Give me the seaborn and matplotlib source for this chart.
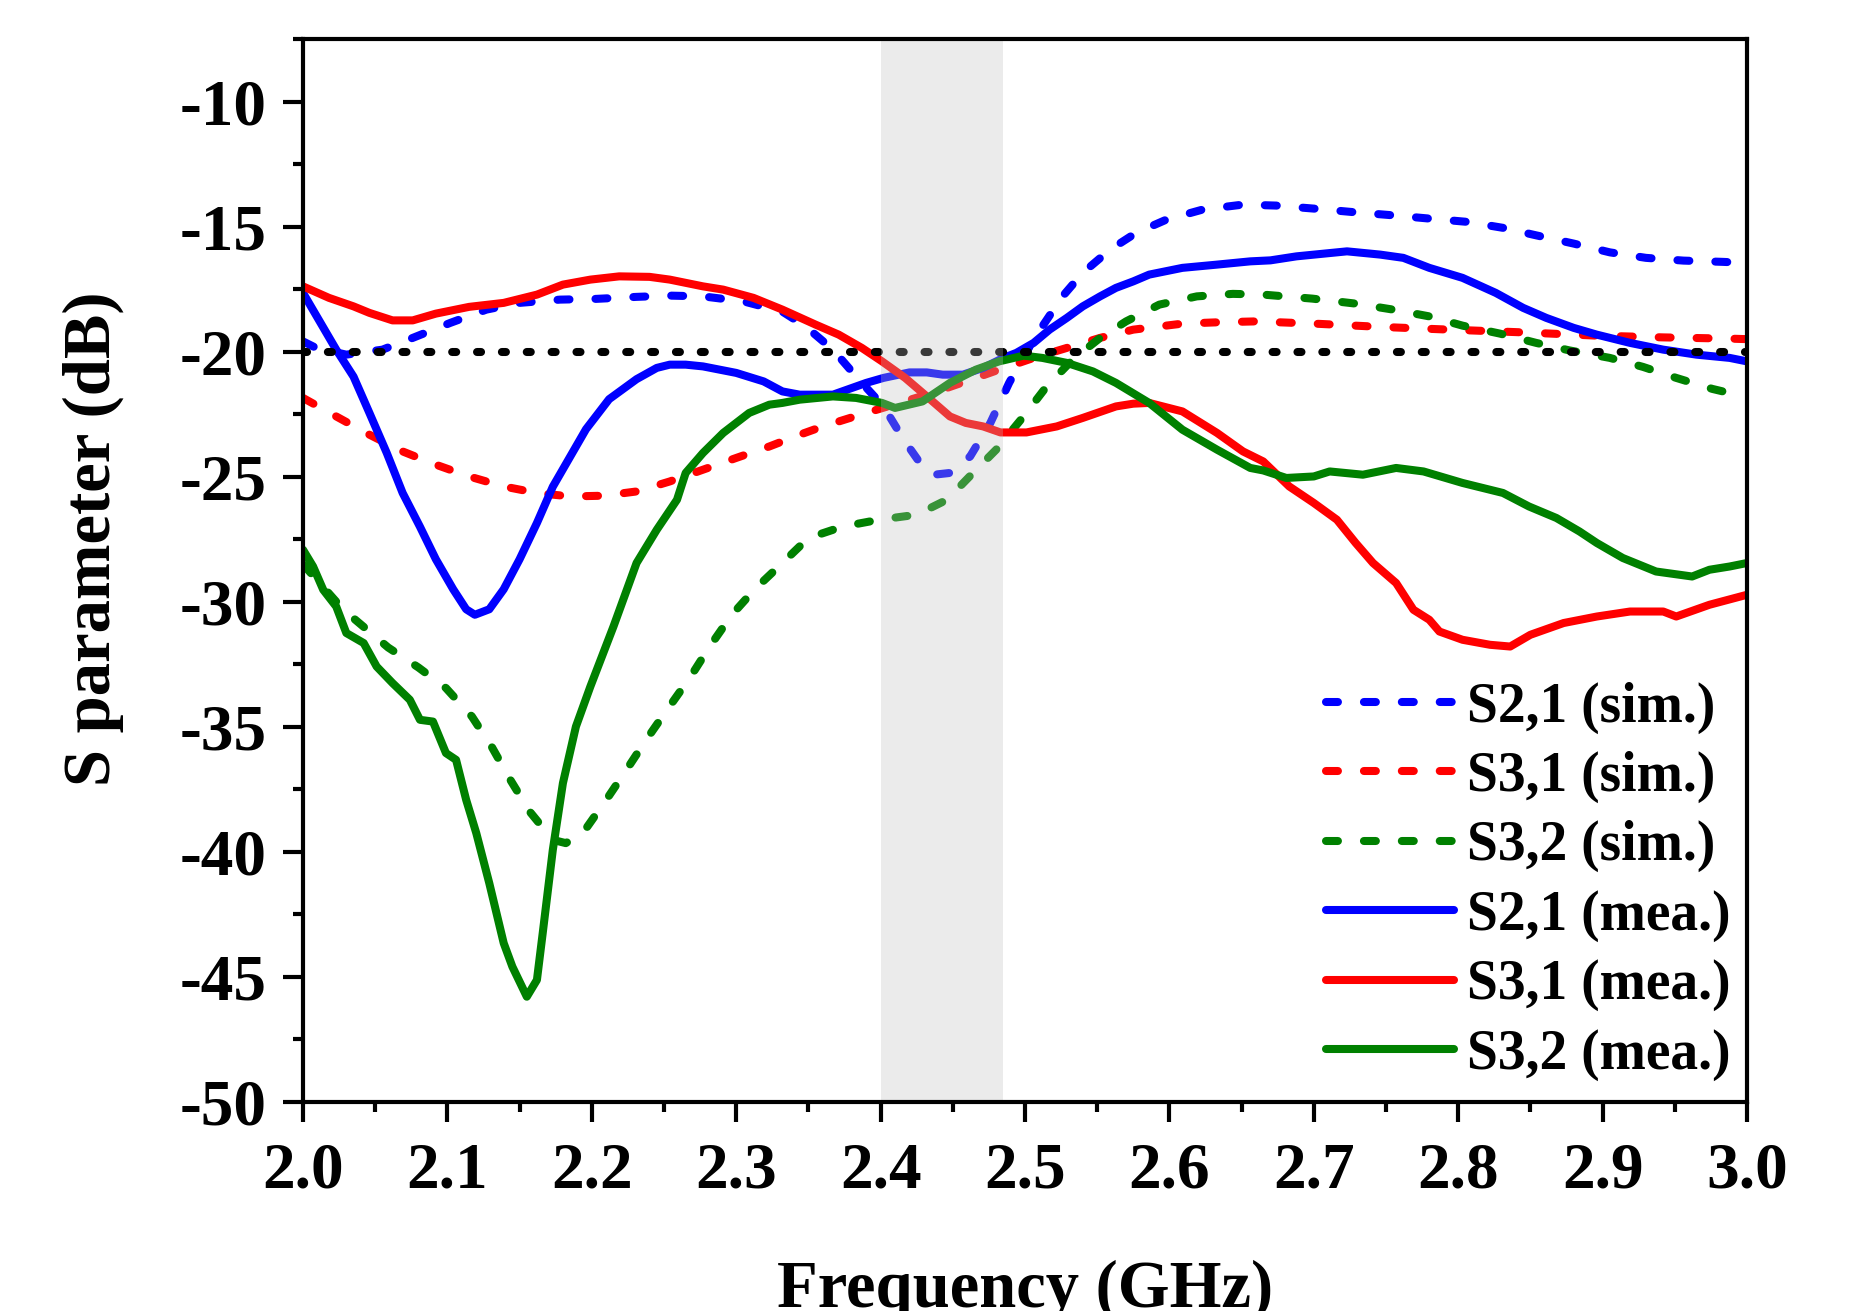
import numpy as np
import pandas as pd
import matplotlib
matplotlib.use("Agg")
import matplotlib.pyplot as plt
import seaborn as sns

# ---------------- data ----------------
s21_mea_f = [2.000, 2.023, 2.035, 2.046, 2.058, 2.069, 2.081, 2.092, 2.104, 2.113, 2.119, 2.129,
             2.139, 2.150, 2.162, 2.173, 2.185, 2.196, 2.212, 2.231, 2.245, 2.254, 2.265, 2.277,
             2.300, 2.319, 2.332, 2.344, 2.367, 2.390, 2.402, 2.420, 2.432, 2.443, 2.457, 2.471,
             2.485, 2.494, 2.506, 2.517, 2.529, 2.540, 2.552, 2.563, 2.575, 2.586, 2.609, 2.633,
             2.656, 2.670, 2.688, 2.723, 2.746, 2.762, 2.780, 2.803, 2.826, 2.845, 2.861, 2.880,
             2.896, 2.919, 2.942, 2.965, 2.988, 3.000]
s21_mea_v = [-17.65, -19.92, -21.00, -22.45, -24.05, -25.65, -27.00, -28.30, -29.50, -30.30, -30.52, -30.30,
             -29.50, -28.30, -26.85, -25.40, -24.20, -23.10, -21.90, -21.10, -20.65, -20.52, -20.52, -20.59,
             -20.85, -21.19, -21.59, -21.72, -21.72, -21.25, -21.05, -20.83, -20.83, -20.92, -20.92, -20.65,
             -20.25, -20.05, -19.65, -19.12, -18.65, -18.19, -17.79, -17.45, -17.19, -16.92, -16.65, -16.52,
             -16.39, -16.35, -16.19, -15.99, -16.12, -16.25, -16.65, -17.05, -17.65, -18.25, -18.65, -19.05,
             -19.32, -19.65, -19.92, -20.12, -20.25, -20.39]

s21_sim_f = [2.000, 2.009, 2.030, 2.055, 2.076, 2.102, 2.127, 2.150, 2.178, 2.203, 2.231, 2.254,
             2.277, 2.305, 2.332, 2.348, 2.367, 2.385, 2.402, 2.416, 2.429, 2.437, 2.448, 2.462,
             2.476, 2.489, 2.499, 2.512, 2.526, 2.540, 2.559, 2.577, 2.598, 2.623, 2.651, 2.674,
             2.702, 2.729, 2.755, 2.780, 2.806, 2.831, 2.854, 2.880, 2.905, 2.930, 2.956, 2.983, 3.000]
s21_sim_v = [-19.59, -19.85, -20.12, -19.92, -19.45, -18.85, -18.32, -18.05, -17.92, -17.89, -17.81, -17.76,
             -17.79, -17.99, -18.40, -18.99, -19.92, -21.12, -22.19, -23.52, -24.59, -24.92, -24.85, -24.19,
             -22.85, -21.25, -20.19, -18.99, -17.79, -16.85, -15.92, -15.25, -14.72, -14.32, -14.12, -14.16,
             -14.29, -14.43, -14.55, -14.68, -14.81, -15.05, -15.35, -15.68, -16.03, -16.25, -16.36, -16.41, -16.45]

s31_mea_f = [2.000, 2.018, 2.035, 2.046, 2.062, 2.076, 2.092, 2.115, 2.139, 2.162, 2.180, 2.199,
             2.219, 2.240, 2.254, 2.277, 2.291, 2.312, 2.332, 2.355, 2.371, 2.387, 2.401, 2.417,
             2.432, 2.448, 2.459, 2.471, 2.483, 2.501, 2.522, 2.540, 2.563, 2.575, 2.586, 2.609,
             2.633, 2.651, 2.665, 2.683, 2.700, 2.716, 2.729, 2.741, 2.757, 2.769, 2.780, 2.787,
             2.803, 2.822, 2.836, 2.850, 2.873, 2.896, 2.919, 2.942, 2.951, 2.974, 3.000]
s31_mea_v = [-17.39, -17.85, -18.19, -18.45, -18.75, -18.75, -18.48, -18.21, -18.05, -17.72, -17.32, -17.12,
             -16.99, -17.01, -17.12, -17.39, -17.52, -17.85, -18.32, -18.92, -19.32, -19.85, -20.39, -21.05,
             -21.79, -22.59, -22.85, -22.99, -23.23, -23.23, -22.99, -22.65, -22.19, -22.08, -22.05, -22.39,
             -23.25, -23.99, -24.39, -25.39, -26.05, -26.72, -27.65, -28.45, -29.25, -30.32, -30.72, -31.19,
             -31.52, -31.72, -31.79, -31.32, -30.85, -30.59, -30.39, -30.39, -30.59, -30.12, -29.72]

s31_sim_f = [2.000, 2.023, 2.046, 2.069, 2.092, 2.115, 2.139, 2.162, 2.185, 2.208, 2.231, 2.254,
             2.277, 2.300, 2.323, 2.345, 2.360, 2.390, 2.413, 2.436, 2.459, 2.482, 2.506, 2.529,
             2.552, 2.575, 2.609, 2.632, 2.660, 2.704, 2.746, 2.794, 2.845, 2.896, 2.942, 2.988, 3.000]
s31_sim_v = [-21.85, -22.59, -23.32, -23.99, -24.52, -24.99, -25.39, -25.65, -25.79, -25.76, -25.59, -25.19,
             -24.72, -24.25, -23.79, -23.30, -22.99, -22.45, -22.05, -21.65, -21.19, -20.72, -20.25, -19.85,
             -19.45, -19.12, -18.88, -18.83, -18.79, -18.89, -19.01, -19.12, -19.23, -19.36, -19.43, -19.48, -19.50]

s32_mea_f = [2.000, 2.007, 2.014, 2.023, 2.030, 2.042, 2.051, 2.062, 2.074, 2.081, 2.090, 2.099,
             2.106, 2.113, 2.120, 2.129, 2.139, 2.145, 2.155, 2.162, 2.166, 2.173, 2.180, 2.189,
             2.199, 2.215, 2.231, 2.245, 2.259, 2.265, 2.277, 2.291, 2.309, 2.323, 2.332, 2.344,
             2.367, 2.383, 2.401, 2.410, 2.429, 2.448, 2.466, 2.482, 2.499, 2.512, 2.529, 2.547,
             2.563, 2.586, 2.609, 2.633, 2.656, 2.665, 2.681, 2.700, 2.711, 2.734, 2.757, 2.776,
             2.803, 2.831, 2.849, 2.868, 2.884, 2.896, 2.914, 2.937, 2.962, 2.974, 2.988, 3.000]
s32_mea_v = [-27.92, -28.59, -29.52, -30.19, -31.25, -31.65, -32.59, -33.25, -33.92, -34.72, -34.79, -36.05,
             -36.32, -37.92, -39.25, -41.25, -43.65, -44.59, -45.79, -45.12, -43.25, -39.92, -37.25, -34.99,
             -33.39, -30.99, -28.45, -27.12, -25.92, -24.85, -24.05, -23.25, -22.45, -22.12, -22.05, -21.92,
             -21.79, -21.85, -22.05, -22.25, -21.99, -21.25, -20.72, -20.39, -20.16, -20.25, -20.45, -20.79,
             -21.25, -22.05, -23.12, -23.92, -24.65, -24.75, -25.05, -24.99, -24.79, -24.92, -24.65, -24.79,
             -25.25, -25.65, -26.19, -26.65, -27.19, -27.65, -28.25, -28.79, -28.99, -28.72, -28.59, -28.45]

s32_sim_f = [2.000, 2.028, 2.059, 2.080, 2.099, 2.117, 2.131, 2.144, 2.157, 2.173, 2.182, 2.194,
             2.210, 2.224, 2.238, 2.253, 2.268, 2.282, 2.297, 2.313, 2.332, 2.350, 2.374, 2.399,
             2.425, 2.446, 2.464, 2.480, 2.499, 2.515, 2.533, 2.552, 2.570, 2.593, 2.619, 2.644,
             2.665, 2.699, 2.729, 2.755, 2.780, 2.803, 2.829, 2.854, 2.877, 2.905, 2.928, 2.951,
             2.976, 3.000]
s32_sim_v = [-28.50, -30.32, -31.83, -32.63, -33.45, -34.59, -35.83, -37.16, -38.39, -39.52, -39.65, -39.23,
             -37.92, -36.72, -35.49, -34.25, -33.03, -31.76, -30.52, -29.49, -28.45, -27.45, -26.99, -26.72,
             -26.52, -25.92, -24.85, -23.92, -22.59, -21.39, -20.32, -19.45, -18.79, -18.12, -17.79, -17.69,
             -17.72, -17.88, -18.08, -18.32, -18.59, -18.96, -19.28, -19.65, -19.95, -20.25, -20.61, -21.05,
             -21.49, -21.82]

series_labels = ["S2,1 (sim.)", "S3,1 (sim.)", "S3,2 (sim.)",
                 "S2,1 (mea.)", "S3,1 (mea.)", "S3,2 (mea.)"]
series_colors = ["#0000ff", "#ff0000", "#008000", "#0000ff", "#ff0000", "#008000"]
series_dashed = [True, True, True, False, False, False]
series_data = [(s21_sim_f, s21_sim_v), (s31_sim_f, s31_sim_v), (s32_sim_f, s32_sim_v),
               (s21_mea_f, s21_mea_v), (s31_mea_f, s31_mea_v), (s32_mea_f, s32_mea_v)]

threshold = -20
band = (2.40, 2.485)
x_ticks = [2.0, 2.1, 2.2, 2.3, 2.4, 2.5, 2.6, 2.7, 2.8, 2.9, 3.0]
y_ticks = [-10, -15, -20, -25, -30, -35, -40, -45, -50]

# ---------------- style ----------------
sns.set_style("ticks")
plt.rcParams["font.family"] = ["Liberation Serif", "DejaVu Serif"]
plt.rcParams["font.weight"] = "bold"
plt.rcParams["axes.unicode_minus"] = False
plt.rcParams["lines.scale_dashes"] = False
plt.rcParams["text.color"] = "black"
plt.rcParams["axes.labelcolor"] = "black"
plt.rcParams["xtick.color"] = "black"
plt.rcParams["ytick.color"] = "black"

fig = plt.figure(figsize=(18.55, 13.11), dpi=100)
ax = fig.add_axes([303 / 1855, 1 - 1102 / 1311, 1444 / 1855, 1063 / 1311])

LW = 5.8
handles = []
for (f, v), lab, col, dashed in zip(series_data, series_labels, series_colors, series_dashed):
    df = pd.DataFrame({"f": f, "v": v})
    sns.lineplot(data=df, x="f", y="v", ax=ax, color=col, linewidth=LW, zorder=3)
    ln = ax.get_lines()[-1]
    if dashed:
        ln.set_dashes([8.6, 18.7])
        ln.set_dash_capstyle("round")
    ln.set_solid_capstyle("round")
    ln.set_solid_joinstyle("round")
    ln.set_label(lab)
    handles.append(ln)

ax.axhline(threshold, color="black", linewidth=LW, dashes=[2.9, 15.0],
           dash_capstyle="round", zorder=4)
ax.axvspan(band[0], band[1], color="#bfbfbf", alpha=0.3, linewidth=0, zorder=5)

ax.set_xlim(2.0, 3.0)
ax.set_ylim(-50, -7.5)
ax.set_xticks(x_ticks)
ax.set_xticklabels([f"{t:.1f}" for t in x_ticks])
ax.set_yticks(y_ticks)
ax.set_yticklabels([str(t) for t in y_ticks])
ax.set_xticks(np.arange(2.05, 3.0, 0.1), minor=True)
ax.set_yticks(np.arange(-47.5, -7.0, 5.0), minor=True)

for sp in ax.spines.values():
    sp.set_linewidth(3.0)
    sp.set_color("black")
    sp.set_zorder(6)

ax.tick_params(axis="both", which="major", direction="out", length=14.4, width=3.0,
               labelsize=47, colors="black")
ax.tick_params(axis="both", which="minor", direction="out", length=7.2, width=3.0, colors="black")
ax.tick_params(axis="x", which="major", pad=14)
ax.tick_params(axis="y", which="major", pad=12)
ax.tick_params(top=False, right=False, which="both")
for t in ax.get_xticklabels() + ax.get_yticklabels():
    t.set_fontweight("bold")

ax.set_xlabel("Frequency (GHz)", fontsize=48, fontweight="bold", labelpad=42, color="black")
ax.set_ylabel("S parameter (dB)", fontsize=48, fontweight="bold", labelpad=40, color="black")
ax.yaxis.label.set_y(0.53)

leg = ax.legend(handles=handles, labels=series_labels, loc="lower right",
                bbox_to_anchor=(0.989, 0.02), frameon=False,
                prop={"family": "Liberation Serif", "weight": "bold", "size": 40},
                handlelength=2.3, handletextpad=0.25, labelspacing=0.31,
                borderpad=0.0, borderaxespad=0.0, labelcolor="black")
leg.set_zorder(7)

fig.savefig("out.png", dpi=100)
